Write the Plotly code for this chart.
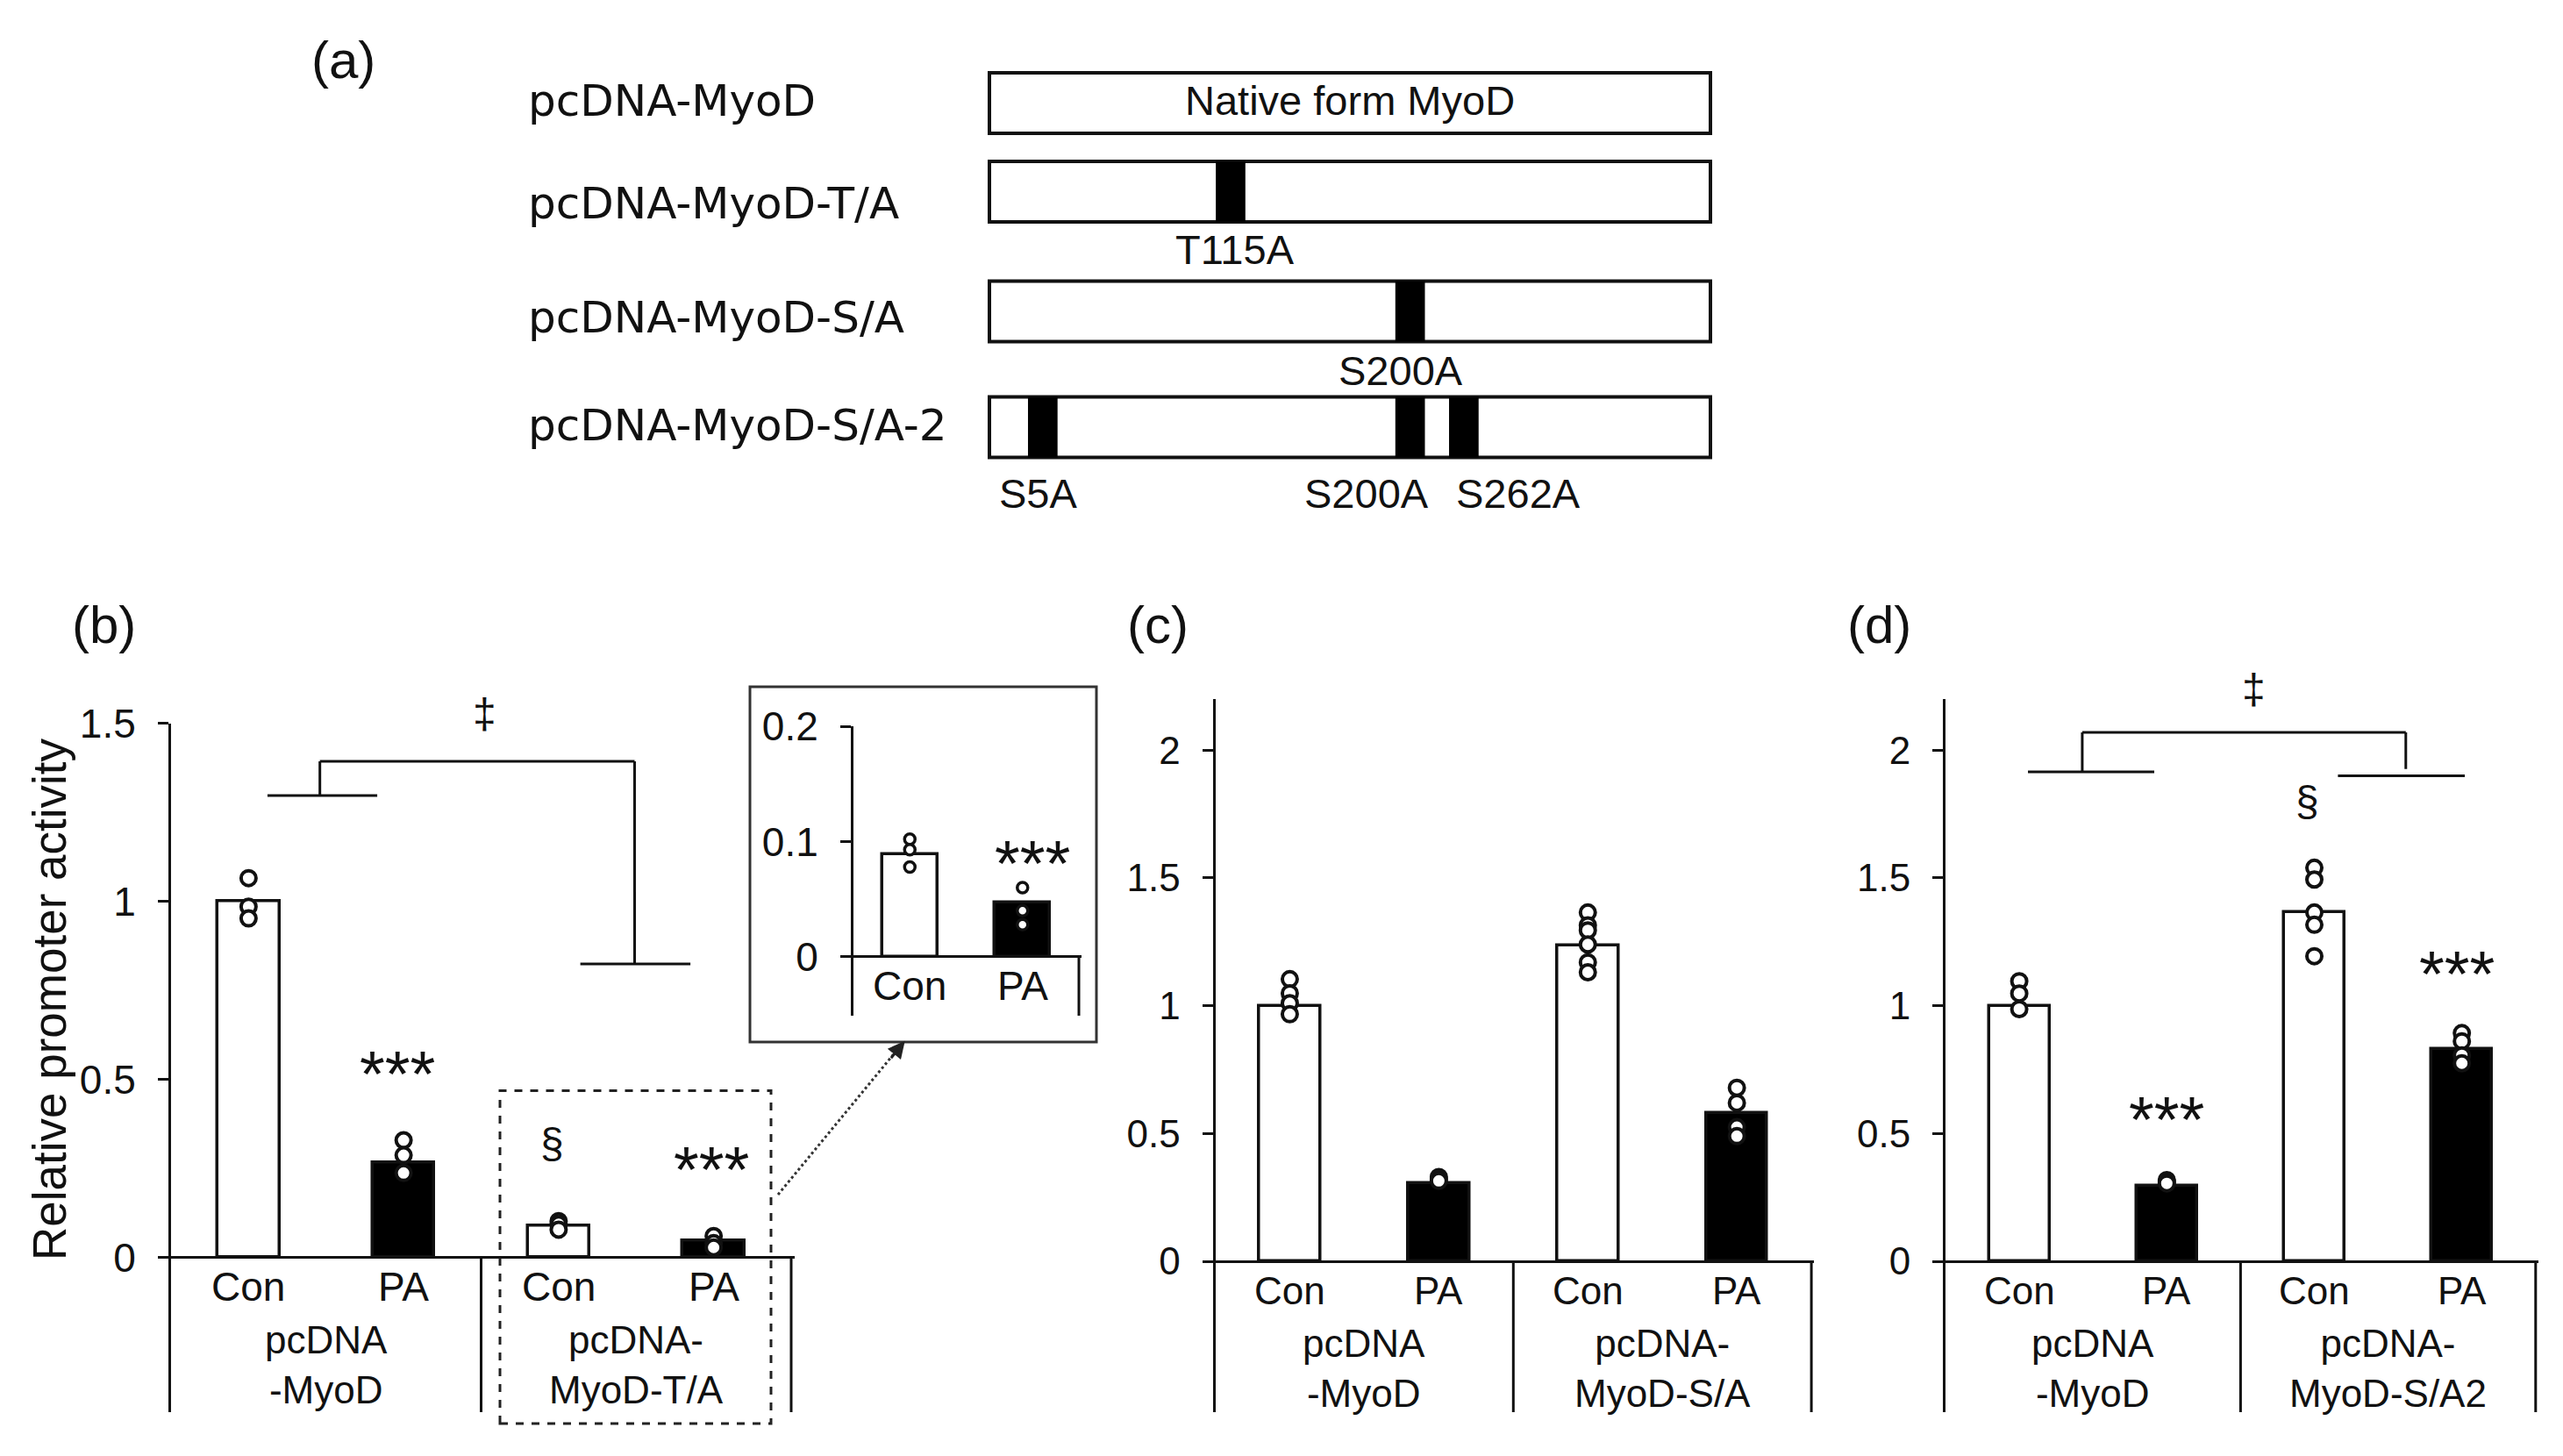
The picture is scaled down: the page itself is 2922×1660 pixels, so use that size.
import plotly.graph_objects as go

W, H = 2922, 1660
OFF = 8          # page body margin of the html page, compensated in all pixel placements
INK = "#111111"
SANS = "Liberation Sans, Arial, sans-serif"
WIDE = "DejaVu Sans, sans-serif"

# ---------------- data: panel (a) construct schematic ----------------
constructs = ["pcDNA-MyoD", "pcDNA-MyoD-T/A", "pcDNA-MyoD-S/A", "pcDNA-MyoD-S/A-2"]
box_text = ["Native form MyoD", "", "", ""]
mut_names = [[], ["T115A"], ["S200A"], ["S5A", "S200A", "S262A"]]
mut_start = [[], [0.314], [0.563], [0.0535, 0.563, 0.6375]]      # relative position in box
mut_label_x = [[], [0.341], [0.571], [0.067, 0.523, 0.734]]

# ---------------- data: bar panels ----------------
conditions = ["Con", "PA", "Con", "PA"]
fills = ["white", "black", "white", "black"]

b_groups = [("pcDNA", "-MyoD"), ("pcDNA-", "MyoD-T/A")]
b_means = [1.00, 0.267, 0.089, 0.047]
b_points = [[1.065, 0.985, 0.952], [0.329, 0.287, 0.237],
            [0.102, 0.093, 0.078], [0.060, 0.040, 0.028]]

inset_conditions = ["Con", "PA"]
inset_means = [0.089, 0.047]
inset_points = [[0.102, 0.093, 0.078], [0.060, 0.040, 0.028]]

c_groups = [("pcDNA", "-MyoD"), ("pcDNA-", "MyoD-S/A")]
c_means = [1.00, 0.306, 1.237, 0.580]
c_points = [[1.104, 1.049, 1.010, 0.967], [0.330, 0.322, 0.315],
            [1.365, 1.315, 1.295, 1.240, 1.170, 1.131], [0.679, 0.620, 0.525, 0.490]]

d_groups = [("pcDNA", "-MyoD"), ("pcDNA-", "MyoD-S/A2")]
d_means = [1.00, 0.295, 1.366, 0.832]
d_points = [[1.096, 1.048, 0.987], [0.318, 0.310, 0.305],
            [1.540, 1.494, 1.365, 1.317, 1.194], [0.893, 0.861, 0.806, 0.775]]

b_ticks = [0, 0.5, 1, 1.5]
b_ticktext = ["0", "0.5", "1", "1.5"]
cd_ticks = [0, 0.5, 1, 1.5, 2]
cd_ticktext = ["0", "0.5", "1", "1.5", "2"]
inset_ticks = [0, 0.1, 0.2]
inset_ticktext = ["0", "0.1", "0.2"]

# significance marks (text, x, y) in data units
b_sig = [("***", 0.96, 0.555), ("§", 1.96, 0.32), ("***", 2.985, 0.287), ("‡", 1.52, 1.528)]
inset_sig = [("***", 1.087, 0.093)]
d_sig = [("***", 0.996, 0.611), ("§", 1.955, 1.80), ("***", 2.966, 1.178), ("‡", 1.587, 2.24)]

# bracket segments (x0, y0, x1, y1)
b_bracket = [(0.122, 1.297, 0.83, 1.297), (0.46, 1.297, 0.46, 1.393), (0.46, 1.393, 2.49, 1.393),
             (2.49, 1.393, 2.49, 0.824), (2.14, 0.824, 2.85, 0.824)]
d_bracket = [(0.059, 1.915, 0.915, 1.915), (0.427, 1.915, 0.427, 2.07), (0.427, 2.07, 2.62, 2.07),
             (2.62, 2.07, 2.62, 1.926), (2.16, 1.90, 3.02, 1.90)]

# ---------------- layout geometry ----------------
ROW_Y = [0, 1, 2.351, 3.658]
LABEL_Y = [-0.025, 1.134, 2.42, 3.64]
MUT_DY = [0, 0.658, 0.664, 0.752]
BOX_HALF = 0.342
MARK_W = 0.041


def PX(x):
    return (x - OFF) / W


def PY(y):
    return 1 - (y - OFF) / H


def dx(p0, p1):
    return [PX(p0), PX(p1)]


def dy(top, bot):
    return [PY(bot), PY(top)]


fig = go.Figure()
shapes = []
ann = []
axis_geom = {}


def text(x, y, s, size, xref="paper", yref="paper", family=SANS, xanchor="center", yanchor="middle",
         angle=0, yshift=0):
    ann.append(dict(x=x, y=y, xref=xref, yref=yref, text=s, showarrow=False, xanchor=xanchor,
                    yanchor=yanchor, textangle=angle, yshift=yshift,
                    font=dict(family=family, size=size, color=INK)))


def data_text(n, x, y, s, size, yshift=0):
    """Place text at data coords of panel n, converted to paper so it is never hidden."""
    xdom, ydom, xr, yr = axis_geom[n]
    px_ = xdom[0] + (x - xr[0]) / (xr[1] - xr[0]) * (xdom[1] - xdom[0])
    py_ = ydom[0] + (y - yr[0]) / (yr[1] - yr[0]) * (ydom[1] - ydom[0])
    text(px_, py_, s, size, yshift=yshift)


def seg(x0, y0, x1, y1, xref, yref, width=3, dash="solid", color=INK):
    shapes.append(dict(type="line", x0=x0, y0=y0, x1=x1, y1=y1, xref=xref, yref=yref,
                       line=dict(color=color, width=width, dash=dash)))


# ---------------- panel (a) ----------------
fig.update_layout(
    xaxis=dict(domain=dx(1128 - 8.22, 1950 + 8.22), range=[-0.01, 1.01], visible=False,
               anchor="y", automargin=False),
    yaxis=dict(domain=dy(16.5, 622.5), range=[5, -1], visible=False, anchor="x", automargin=False),
)
for r, name in enumerate(constructs):
    yc = ROW_Y[r]
    shapes.append(dict(type="rect", xref="x", yref="y", x0=0, x1=1, y0=yc - BOX_HALF, y1=yc + BOX_HALF,
                       line=dict(color=INK, width=4), fillcolor="white", layer="above"))
    for s in mut_start[r]:
        shapes.append(dict(type="rect", xref="x", yref="y", x0=s, x1=s + MARK_W,
                           y0=yc - BOX_HALF, y1=yc + BOX_HALF, line=dict(width=0),
                           fillcolor="black", layer="above"))
    for nm, lx in zip(mut_names[r], mut_label_x[r]):
        text(lx, yc + MUT_DY[r], nm, 47, xref="x", yref="y")
    if box_text[r]:
        text(0.5, yc - 0.03, box_text[r], 47, xref="x", yref="y")
    text(PX(600), LABEL_Y[r], name, 50, yref="y", family=WIDE, xanchor="left")

# ---------------- bar panels ----------------
COND_PX, GRP_PX = 33, 122   # label offsets below zero line (px)


def bar_panel(n, means, points, conds, groups, xdom, ydom, xr, yr, ticks, ticktext, bw, ms, mlw,
              tick_size=46, lab_size=46, grp_size=44):
    xa, ya = f"x{n}", f"y{n}"
    axis_geom[n] = (xdom, ydom, xr, yr)
    fig.add_trace(go.Bar(x=list(range(len(means))), y=means, width=bw, xaxis=xa, yaxis=ya,
                         marker=dict(color=fills[:len(means)], line=dict(color=INK, width=3.5)),
                         showlegend=False, hoverinfo="skip"))
    xs, ys = [], []
    for i, pts in enumerate(points):
        xs += [i] * len(pts)
        ys += pts
    fig.add_trace(go.Scatter(x=xs, y=ys, mode="markers", xaxis=xa, yaxis=ya, cliponaxis=False,
                             marker=dict(size=ms, color="white", line=dict(color=INK, width=mlw)),
                             showlegend=False, hoverinfo="skip"))
    fig.layout[f"xaxis{n}"] = dict(domain=xdom, range=xr, visible=False, anchor=ya, automargin=False)
    fig.layout[f"yaxis{n}"] = dict(domain=ydom, range=yr, anchor=xa, showgrid=False, automargin=False,
                                   showline=True, linecolor=INK, linewidth=3,
                                   zeroline=True, zerolinecolor=INK, zerolinewidth=3,
                                   ticks="outside", ticklen=12, tickwidth=3, tickcolor=INK,
                                   tickvals=ticks, ticktext=ticktext, ticklabelstandoff=16,
                                   tickfont=dict(family=SANS, size=tick_size, color=INK))
    pxu = (ydom[1] - ydom[0]) * H / (yr[1] - yr[0])   # pixels per data unit
    for i, c in enumerate(conds):
        text(i, -COND_PX / pxu, c, lab_size, xref=xa, yref=ya)
    ymin = yr[0]
    for g, (l1, l2) in enumerate(groups):
        xc = 2 * g + 0.5
        text(xc, -GRP_PX / pxu, l1 + "<br>" + l2, grp_size, xref=xa, yref=ya)
        seg(2 * g + 1.5, 0, 2 * g + 1.5, ymin, xa, ya)
    return xa, ya


def add_sig(n, sig, star_size=74):
    for s, x, y in sig:
        if s == "***":
            data_text(n, x, y, s, star_size, yshift=-16)
        else:
            data_text(n, x, y, s, 48)


# (b)
xa, ya = bar_panel(2, b_means, b_points, conditions, b_groups,
                   dx(195, 195 + 4.02 * 176.75), dy(824.5, 1610), [-0.5, 3.52], [-0.4344, 1.5],
                   b_ticks, b_ticktext, 0.40, 17, 4)
add_sig(2, b_sig)
for x0, y0, x1, y1 in b_bracket:
    seg(x0, y0, x1, y1, xa, ya)

# inset
xi, yi = bar_panel(3, inset_means, inset_points, inset_conditions, [],
                   dx(973, 973 + 2.02 * 128.5), dy(828, 1158), [-0.5, 1.52], [-0.051, 0.2],
                   inset_ticks, inset_ticktext, 0.49, 12, 3.5)
seg(1.5, 0, 1.5, -0.051, xi, yi)
add_sig(3, inset_sig)

# (c)
bar_panel(4, c_means, c_points, conditions, c_groups,
          dx(1385.5, 1385.5 + 4.02 * 169.9), dy(797, 1610), [-0.5, 3.52], [-0.59, 2.2],
          cd_ticks, cd_ticktext, 0.41, 17, 4, tick_size=44, lab_size=44)

# (d)
xd_, yd_ = bar_panel(5, d_means, d_points, conditions, d_groups,
                     dx(2218, 2218 + 4.02 * 168.2), dy(797, 1610), [-0.5, 3.52], [-0.59, 2.2],
                     cd_ticks, cd_ticktext, 0.41, 17, 4, tick_size=44, lab_size=44)
add_sig(5, d_sig)
for x0, y0, x1, y1 in d_bracket:
    seg(x0, y0, x1, y1, xd_, yd_)

# inset frame, dashed highlight box, dotted arrow
shapes.append(dict(type="rect", xref="paper", yref="paper", x0=PX(855), x1=PX(1250),
                   y0=PY(1188), y1=PY(783), line=dict(color="#333333", width=3)))
shapes.append(dict(type="rect", xref="paper", yref="paper", x0=PX(570), x1=PX(879),
                   y0=PY(1623), y1=PY(1243.5), line=dict(color="#222222", width=3, dash="dash")))
seg(PX(887), PY(1362), PX(1022), PY(1198), "paper", "paper", width=3, dash="dot", color="#333333")
ann.append(dict(x=PX(1031.7), y=PY(1186.7), xref="paper", yref="paper", ax=-17, ay=21,
                axref="pixel", ayref="pixel", text="", showarrow=True, arrowhead=2, arrowsize=1.3,
                arrowwidth=3, arrowcolor="#222222"))

# panel letters and y title
text(PX(391), PY(68), "(a)", 60)
text(PX(118), PY(712), "(b)", 60)
text(PX(1320), PY(712), "(c)", 60)
text(PX(2142), PY(712), "(d)", 60)
text(PX(56), PY(1140), "Relative promoter activity", 53, angle=-90)

fig.update_layout(width=W, height=H,
                  margin=dict(l=0, r=0, t=0, b=0, pad=0, autoexpand=False),
                  paper_bgcolor="white", plot_bgcolor="rgba(0,0,0,0)",
                  shapes=shapes, annotations=ann, bargap=0, showlegend=False,
                  font=dict(family=SANS, color=INK))
fig.write_html("out.html")
